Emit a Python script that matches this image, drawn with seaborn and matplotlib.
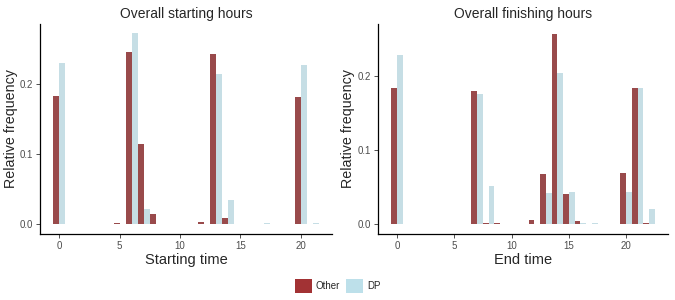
import matplotlib
matplotlib.use("Agg")
import matplotlib.pyplot as plt
import seaborn as sns
import pandas as pd
from matplotlib.patches import Patch

hours = list(range(24))
groups = ["Other", "DP"]

start_other = [0.183, 0.001, 0, 0, 0, 0.0025, 0.2455, 0.1137, 0.0155, 0.001, 0, 0.001,
               0.0038, 0.2427, 0.0094, 0.001, 0.0012, 0.001, 0, 0.001, 0.1806, 0.0012, 0, 0]
start_dp = [0.229, 0, 0, 0, 0, 0, 0.2716, 0.0218, 0, 0, 0, 0,
            0, 0.2137, 0.0346, 0, 0, 0.0015, 0, 0, 0.227, 0.002, 0, 0]

end_other = [0.1834, 0, 0, 0, 0, 0, 0, 0.1798, 0.002, 0.0015, 0.001, 0.001,
             0.0058, 0.0677, 0.257, 0.0408, 0.0044, 0.0012, 0.001, 0.001, 0.0695, 0.1839, 0.002, 0]
end_dp = [0.2287, 0, 0, 0, 0, 0, 0, 0.176, 0.0516, 0, 0, 0,
          0, 0.0426, 0.204, 0.044, 0.002, 0.002, 0, 0, 0.044, 0.1839, 0.0202, 0]

titles = ["Overall starting hours", "Overall finishing hours"]
xlabels = ["Starting time", "End time"]
colors = {"Other": "#A23234", "DP": "#BDE0EA"}


def make_df(other, dp):
    return pd.DataFrame({
        "hour": hours * 2,
        "group": ["Other"] * len(hours) + ["DP"] * len(hours),
        "freq": other + dp,
    })


sns.set_theme(style="white")
plt.rcParams["font.family"] = ["Liberation Sans", "DejaVu Sans"]

fig = plt.figure(figsize=(6.75, 3), dpi=100)
ax1 = fig.add_axes([40 / 675, 1 - 234 / 300, 292 / 675, 210 / 300])
ax2 = fig.add_axes([378 / 675, 1 - 234 / 300, 290 / 675, 210 / 300])

panels = [(ax1, make_df(start_other, start_dp), (-1.6, 22.6), (-0.0136, 0.285), -0.077),
          (ax2, make_df(end_other, end_dp), (-1.65, 23.65), (-0.0129, 0.270), -0.078)]

for i, (ax, df, xl, yl, lx) in enumerate(panels):
    sns.barplot(data=df, x="hour", y="freq", hue="group", hue_order=groups,
                palette=colors, native_scale=True, width=1.0, errorbar=None,
                linewidth=0, alpha=0.95, legend=False, ax=ax)
    ax.set_xlim(*xl)
    ax.set_ylim(*yl)
    ax.set_xticks([0, 5, 10, 15, 20])
    ax.set_yticks([0.0, 0.1, 0.2])
    ax.set_yticklabels(["0.0", "0.1", "0.2"])
    ax.set_title(titles[i], fontsize=10, pad=4)
    ax.set_xlabel(xlabels[i], fontsize=10.5, labelpad=1.5)
    ax.set_ylabel("Relative frequency", fontsize=10.3)
    ax.yaxis.set_label_coords(lx, 0.5)
    ax.tick_params(axis="both", labelsize=7, colors="#4D4D4D", length=3,
                   width=0.6, pad=2, bottom=True, left=True)
    ax.tick_params(axis="both", color="#333333")
    for s in ["top", "right"]:
        ax.spines[s].set_visible(False)
    for s in ["left", "bottom"]:
        ax.spines[s].set_color("black")
        ax.spines[s].set_linewidth(0.9)

handles = [Patch(facecolor=colors[g], edgecolor="none", label=g) for g in groups]
fig.legend(handles=handles, loc="center", bbox_to_anchor=(0.5, 1 - 286 / 300), ncol=2,
           frameon=False, fontsize=7, handlelength=1.75, handleheight=1.75,
           handletextpad=0.4, columnspacing=0.6, borderpad=0)

fig.savefig("out.png", dpi=100)
